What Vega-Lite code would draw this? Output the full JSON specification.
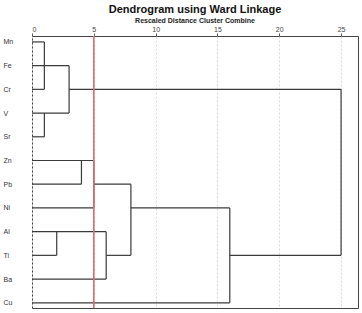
{
  "$schema": "https://vega.github.io/schema/vega-lite/v6.json",
  "width": 326,
  "height": 272,
  "autosize": {"type": "none"},
  "padding": {"left": 32, "top": 36, "right": 4, "bottom": 5},
  "background": "white",
  "title": {
    "text": "Dendrogram using Ward Linkage",
    "subtitle": "Rescaled Distance Cluster Combine",
    "anchor": "middle",
    "frame": "group",
    "font": "Liberation Sans",
    "fontSize": 11,
    "fontWeight": "bold",
    "color": "#111",
    "subtitleFont": "Liberation Sans",
    "subtitleFontSize": 7,
    "subtitleFontWeight": "bold",
    "subtitleColor": "#222",
    "subtitlePadding": 2,
    "offset": 1
  },
  "config": {
    "view": {"stroke": "#444", "strokeWidth": 1},
    "axis": {"labelFont": "Liberation Sans"}
  },
  "datasets": {
    "segments": [
      {"x1": 0, "x2": 1, "y1": 0, "y2": 0},
      {"x1": 0, "x2": 3, "y1": 1, "y2": 1},
      {"x1": 0, "x2": 1, "y1": 2, "y2": 2},
      {"x1": 3, "x2": 25, "y1": 2, "y2": 2},
      {"x1": 0, "x2": 3, "y1": 3, "y2": 3},
      {"x1": 0, "x2": 1, "y1": 4, "y2": 4},
      {"x1": 0, "x2": 5, "y1": 5, "y2": 5},
      {"x1": 0, "x2": 4, "y1": 6, "y2": 6},
      {"x1": 5, "x2": 8, "y1": 6, "y2": 6},
      {"x1": 0, "x2": 5, "y1": 7, "y2": 7},
      {"x1": 8, "x2": 16, "y1": 7, "y2": 7},
      {"x1": 0, "x2": 6, "y1": 8, "y2": 8},
      {"x1": 0, "x2": 2, "y1": 9, "y2": 9},
      {"x1": 6, "x2": 8, "y1": 9, "y2": 9},
      {"x1": 16, "x2": 25, "y1": 9, "y2": 9},
      {"x1": 0, "x2": 6, "y1": 10, "y2": 10},
      {"x1": 0, "x2": 16, "y1": 11, "y2": 11},
      {"x1": 1, "x2": 1, "y1": 0, "y2": 2},
      {"x1": 1, "x2": 1, "y1": 3, "y2": 4},
      {"x1": 3, "x2": 3, "y1": 1, "y2": 3},
      {"x1": 4, "x2": 4, "y1": 5, "y2": 6},
      {"x1": 5, "x2": 5, "y1": 5, "y2": 7},
      {"x1": 2, "x2": 2, "y1": 8, "y2": 9},
      {"x1": 6, "x2": 6, "y1": 8, "y2": 10},
      {"x1": 8, "x2": 8, "y1": 6, "y2": 9},
      {"x1": 16, "x2": 16, "y1": 7, "y2": 11},
      {"x1": 25, "x2": 25, "y1": 2, "y2": 9}
    ],
    "cutoff": [{"cut": 5}]
  },
  "layer": [
    {
      "data": {"name": "segments"},
      "mark": {"type": "rule", "color": "#3a3a3a", "strokeWidth": 1.2},
      "encoding": {
        "x": {
          "field": "x1", "type": "quantitative",
          "scale": {"domain": [0, 26.37], "nice": false, "zero": false},
          "axis": {
            "orient": "top", "title": null,
            "values": [0, 5, 10, 15, 20, 25],
            "domain": false,
            "ticks": true, "tickSize": 3, "tickColor": "#555",
            "labelFontSize": 7, "labelColor": "#444", "labelPadding": 1,
            "grid": true, "gridColor": "#d8d8d8", "gridDash": [2, 2], "gridWidth": 1
          }
        },
        "x2": {"field": "x2"},
        "y": {
          "field": "y1", "type": "quantitative",
          "scale": {"domain": [-0.25, 11.22], "reverse": true, "nice": false, "zero": false},
          "axis": {
            "title": null,
            "values": [0, 1, 2, 3, 4, 5, 6, 7, 8, 9, 10, 11],
            "labelExpr": "['Mn','Fe','Cr','V','Sr','Zn','Pb','Ni','Al','Ti','Ba','Cu'][datum.value]",
            "domain": false, "ticks": false, "grid": false,
            "labelAlign": "left", "labelPadding": 29,
            "labelFontSize": 7, "labelColor": "#333"
          }
        },
        "y2": {"field": "y2"}
      }
    },
    {
      "data": {"name": "cutoff"},
      "mark": {"type": "rule", "color": "#e06a6a", "strokeWidth": 1.6},
      "encoding": {"x": {"field": "cut", "type": "quantitative"}}
    }
  ]
}
